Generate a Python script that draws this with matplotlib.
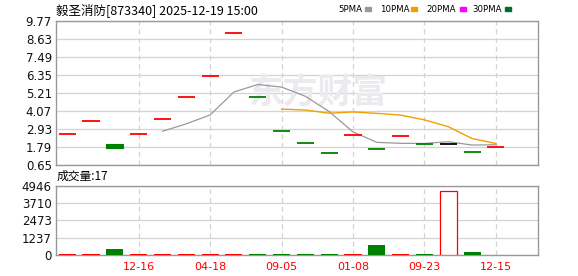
import matplotlib
matplotlib.use("Agg")
import matplotlib.pyplot as plt
from matplotlib.patches import Rectangle

plt.rcParams['font.family'] = ['Noto Sans CJK SC', 'DejaVu Sans']

# ---- data ----
opens = [2.63, 3.45, 2.02, 2.63, 3.60, 4.96, 6.29, 8.99, 4.96, 2.82,
         2.06, 1.43, 2.57, 1.69, 2.51, 2.00, 2.00, 1.50, 1.81]
closes = [2.63, 3.45, 1.74, 2.63, 3.60, 4.96, 6.29, 8.99, 4.96, 2.82,
          2.06, 1.43, 2.57, 1.69, 2.51, 2.00, 2.00, 1.50, 1.81]
volumes = [60, 50, 430, 40, 50, 40, 40, 50, 60, 50,
           40, 40, 50, 720, 40, 50, 4570, 220, 17]
ma5 = [None, None, None, None, 2.81, 3.28, 3.84, 5.29, 5.76, 5.60,
       5.02, 4.05, 2.77, 2.11, 2.05, 2.04, 2.15, 1.94, 1.96]
ma10 = [None] * 9 + [4.21, 4.15, 3.95, 4.03, 3.94, 3.83, 3.53, 3.10, 2.35, 2.04]
tick_idx = [3, 6, 9, 12, 15, 18]
tick_labels = ["12-16", "04-18", "09-05", "01-08", "09-23", "12-15"]
price_ticks = [0.65, 1.79, 2.93, 4.07, 5.21, 6.35, 7.49, 8.63, 9.77]
vol_ticks = [0, 1237, 2473, 3710, 4946]
legend_names = ["5PMA", "10PMA", "20PMA", "30PMA"]
legend_colors = ["#999999", "#f0a000", "#ff00ff", "#006f2f"]

RED = "#ff0000"
GREEN = "#008000"
GRID = "#d3d3d3"
FRAME = "#999999"
W, H = 578, 276

fig = plt.figure(figsize=(5.78, 2.76), dpi=100)
ax = fig.add_axes([0.0969, 0.4004, 0.834, 0.5235])
axv = fig.add_axes([0.0969, 0.0761, 0.834, 0.25])

n = len(closes)
w = 0.36

# colours: up / down / flat versus previous close
colors = []
for i in range(n):
    if i == 0 or closes[i] > closes[i - 1]:
        colors.append(RED)
    elif closes[i] < closes[i - 1]:
        colors.append(GREEN)
    else:
        colors.append("#000000")

# ---- price panel ----
for i in range(n):
    o, c = opens[i], closes[i]
    if o == c:
        ax.hlines(c, i - w, i + w, color=colors[i], lw=1.3, zorder=3)
    else:
        fill = GREEN if c < o else "white"
        edge = GREEN if c < o else RED
        ax.add_patch(Rectangle((i - w, min(o, c)), 2 * w, abs(o - c),
                               facecolor=fill, edgecolor=edge, lw=0.8, zorder=3))

xs5 = [i for i in range(n) if ma5[i] is not None]
ax.plot(xs5, [ma5[i] for i in xs5], color="#999999", lw=0.9, zorder=2)
xs10 = [i for i in range(n) if ma10[i] is not None]
ax.plot(xs10, [ma10[i] for i in xs10], color="#f0a000", lw=1.0, zorder=2)

# watermark
ax.text(0.545, 0.51, "东方财富", transform=ax.transAxes, fontsize=25,
        color="#ebebef", ha="center", va="center", fontweight="bold", zorder=1)

ax.set_xlim(-0.47, 19.77)
ax.set_ylim(0.65, 9.77)
ax.set_yticks(price_ticks)
ax.set_yticklabels([f"{t:.2f}" for t in price_ticks], fontsize=8.5,
                   family="DejaVu Sans")
ax.set_xticks(tick_idx)
ax.set_xticklabels([])

# ---- volume panel ----
for i in range(n):
    if i == 16:
        axv.bar(i, volumes[i], width=2 * w, facecolor="white",
                edgecolor=RED, lw=0.9, zorder=3)
    else:
        col = RED if colors[i] == RED else GREEN
        axv.bar(i, max(volumes[i], 35), width=2 * w, color=col, zorder=3)

axv.set_xlim(-0.47, 19.77)
axv.set_ylim(0, 4946)
axv.set_yticks(vol_ticks)
axv.set_yticklabels([str(v) for v in vol_ticks], fontsize=8.5,
                    family="DejaVu Sans")
axv.set_xticks(tick_idx)
axv.set_xticklabels(tick_labels, fontsize=8, color=RED, family="DejaVu Sans")

for a in (ax, axv):
    a.grid(axis="y", color=GRID, lw=0.9, zorder=0)
    a.grid(axis="x", color=GRID, lw=0.9, ls=(0, (4, 3)), zorder=0)
    for s in a.spines.values():
        s.set_color(FRAME)
        s.set_linewidth(1.0)
    a.tick_params(length=0, pad=3, colors="#111111")
    a.set_axisbelow(True)
axv.tick_params(axis="x", colors=RED, pad=5)

# ---- texts ----
fig.text(0.0969, 0.965, "毅圣消防[873340] 2025-12-19 15:00", fontsize=9,
         ha="left", va="center")
fig.text(0.0985, 0.36, "成交量:17", fontsize=8.5, ha="left", va="center")

text_px = [338, 380, 426, 472]
box_px = [365, 411, 460, 505]
for name, col, tx, bx in zip(legend_names, legend_colors, text_px, box_px):
    fig.text(tx / W, 1 - 9 / H, name, fontsize=6.2, ha="left", va="center",
             family="DejaVu Sans")
    fig.patches.append(Rectangle((bx / W, 1 - 10.5 / H), 6 / W, 3.5 / H,
                                 transform=fig.transFigure, color=col))

fig.savefig("out.png", dpi=100)
